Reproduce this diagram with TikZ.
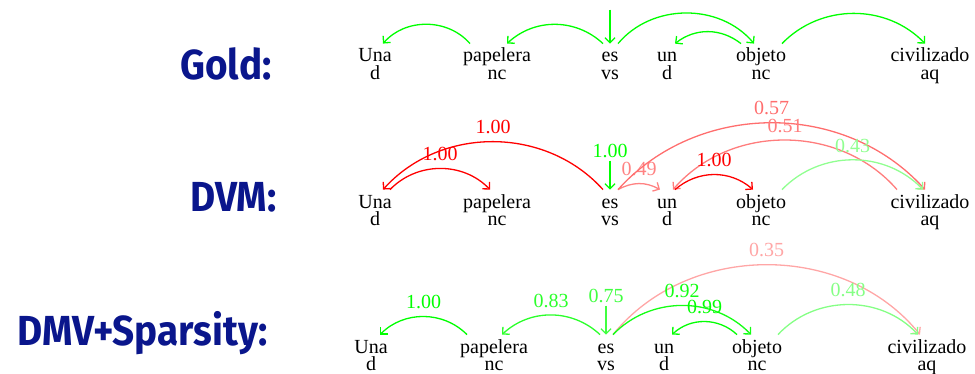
\documentclass[tikz,border=0pt]{standalone}
\usepackage{fontspec}
\setmainfont{Liberation Serif}
\newfontfamily\rowfont{Fira Sans}[FakeStretch=0.92]
\usepackage{xcolor}
\usepackage{tikz}
\usetikzlibrary{arrows.meta,positioning}
\definecolor{rowblue}{RGB}{10,22,140}
\tikzset{
  word/.style={anchor=base, inner sep=2pt, text height=7pt, text depth=2pt, font=\fontsize{10}{12}\selectfont},
  tag/.style={inner sep=0pt, text height=4.5pt, text depth=1pt, font=\fontsize{10}{12}\selectfont},
  rowname/.style={anchor=base east, inner sep=0pt, text=rowblue, font=\rowfont\bfseries\fontsize{21}{24}\selectfont},
  arc/.style={-{Straight Barb[length=2.5pt,width=5pt]}, line width=0.65pt},
  score/.style={font=\fontsize{10}{12}\selectfont, inner sep=1pt, above=2.5pt}
}

\begin{document}
\begin{tikzpicture}[x=0.5pt, y=-0.5pt]
  \useasboundingbox (0,0) rectangle (975,374);

  % row names
  \node[rowname] (gold) at (272,80) {Gold:};
  \node[rowname] (dvm) at (277,212) {DVM:};
  \node[rowname] (sparse) at (268,345) {DMV+Sparsity:};

  % gold
  \node[word] (guna) at (375,62) {Una};
  \node[word] (gpap) at (497,62) {papelera};
  \node[word] (ges) at (610,62) {es};
  \node[word] (gun) at (667,62) {un};
  \node[word] (gobj) at (761,62) {objeto};
  \node[word] (gciv) at (930,62) {civilizado};
  \node[tag, below=0pt of guna] (gunat) {d};
  \node[tag, below=0pt of gpap] (gpapt) {nc};
  \node[tag, below=0pt of ges] (gest) {vs};
  \node[tag, below=0pt of gun] (gunt) {d};
  \node[tag, below=0pt of gobj] (gobjt) {nc};
  \node[tag, below=0pt of gciv] (gcivt) {aq};
  \coordinate (groot) at ([yshift=17pt]ges.north);
  \draw[arc, green] (groot) -- (ges.north);
  \draw[arc, green] ([xshift=-13.5pt]gpap.north) to[bend right=49] ([xshift=4pt]guna.north);
  \draw[arc, green] ([xshift=-3.5pt]ges.north) to[bend right=43] ([xshift=5pt]gpap.north);
  \draw[arc, green] ([xshift=4pt]ges.north) to[bend left=50] ([xshift=-3.5pt]gobj.north);
  \draw[arc, green] ([xshift=-10pt]gobj.north) to[bend right=38] ([xshift=4pt]gun.north);
  \draw[arc, green] ([xshift=10.5pt]gobj.north) to[bend left=46] ([xshift=-2.5pt]gciv.north);

  % dvm
  \node[word] (vuna) at (375,208) {Una};
  \node[word] (vpap) at (497,208) {papelera};
  \node[word] (ves) at (610,208) {es};
  \node[word] (vun) at (667,208) {un};
  \node[word] (vobj) at (761,208) {objeto};
  \node[word] (vciv) at (930,208) {civilizado};
  \node[tag, below=0pt of vuna] (vunat) {d};
  \node[tag, below=0pt of vpap] (vpapt) {nc};
  \node[tag, below=0pt of ves] (vest) {vs};
  \node[tag, below=0pt of vun] (vunt) {d};
  \node[tag, below=0pt of vobj] (vobjt) {nc};
  \node[tag, below=0pt of vciv] (vcivt) {aq};
  \node[score, green, above=14.5pt of ves] (vroot) {1.00};
  \draw[arc, green] (vroot) -- (ves.north);
  \draw[arc, red] ([xshift=-3.5pt]ves.north) to[bend right=48] node[score] {1.00} ([xshift=4pt]vuna.north);
  \draw[arc, red] ([xshift=7.5pt]vuna.north) to[bend left=46] node[score] {1.00} ([xshift=-3.5pt]vpap.north);
  \draw[arc, red!49!white] ([xshift=4pt]ves.north) to[bend left=29] node[score] {0.49} ([xshift=-3.5pt]vun.north);
  \draw[arc, red!57!white] ([xshift=4pt]ves.north) to[bend left=48] node[score] {0.57} ([xshift=-2.5pt]vciv.north);
  \draw[arc, red!51!white] ([xshift=-16.5pt]vciv.north) to[bend right=49] node[score] {0.51} ([xshift=3pt]vun.north);
  \draw[arc, red] ([xshift=4pt]vun.north) to[bend left=41] node[score] {1.00} ([xshift=-4pt]vobj.north);
  \draw[arc, green!43!white] ([xshift=10.5pt]vobj.north) to[bend left=46] node[score] {0.43} ([xshift=-3.5pt]vciv.north);

  % dmv + sparsity
  \node[word] (suna) at (371,353) {Una};
  \node[word] (spap) at (494,353) {papelera};
  \node[word] (ses) at (606,353) {es};
  \node[word] (sun) at (664,353) {un};
  \node[word] (sobj) at (757,353) {objeto};
  \node[word] (sciv) at (927,353) {civilizado};
  \node[tag, below=0pt of suna] (sunat) {d};
  \node[tag, below=0pt of spap] (spapt) {nc};
  \node[tag, below=0pt of ses] (sest) {vs};
  \node[tag, below=0pt of sun] (sunt) {d};
  \node[tag, below=0pt of sobj] (sobjt) {nc};
  \node[tag, below=0pt of sciv] (scivt) {aq};
  \node[score, green!75!white, above=14.5pt of ses] (sroot) {0.75};
  \draw[arc, green!75!white] (sroot) -- (ses.north);
  \draw[arc, green] ([xshift=-13.5pt]spap.north) to[bend right=45] node[score] {1.00} ([xshift=4.5pt]suna.north);
  \draw[arc, green!83!white] ([xshift=-3pt]ses.north) to[bend right=43] node[score] {0.83} ([xshift=4pt]spap.north);
  \draw[arc, red!35!white] ([xshift=3.5pt]ses.north) to[bend left=51] node[score] {0.35} ([xshift=-3.5pt]sciv.north);
  \draw[arc, green!92!white] ([xshift=3.5pt]ses.north) to[bend left=46] node[score] {0.92} ([xshift=-3pt]sobj.north);
  \draw[arc, green!99!white] ([xshift=-10pt]sobj.north) to[bend right=43] node[score] {0.99} ([xshift=4pt]sun.north);
  \draw[arc, green!48!white] ([xshift=10.5pt]sobj.north) to[bend left=47] node[score] {0.48} ([xshift=-4.5pt]sciv.north);
\end{tikzpicture}
\end{document}
